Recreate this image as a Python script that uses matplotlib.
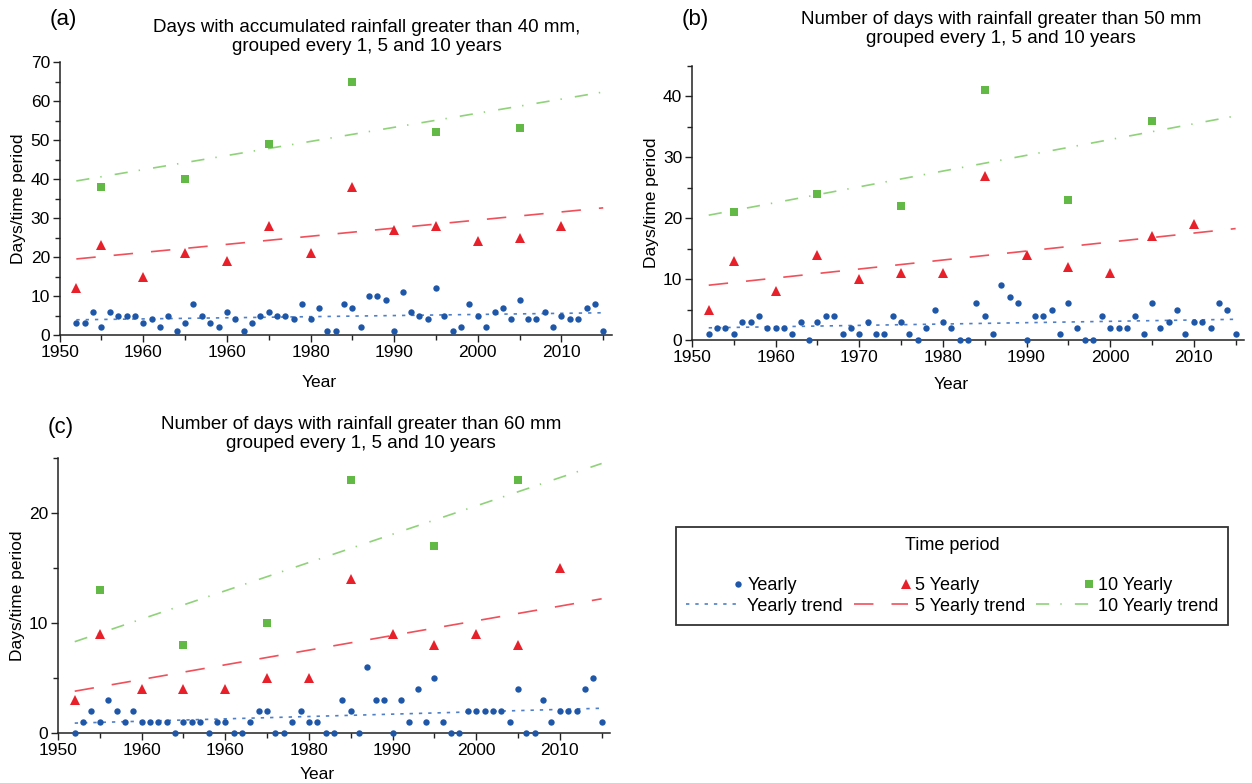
import numpy as np
import matplotlib
matplotlib.use("Agg")
from matplotlib import pyplot as plt
from matplotlib.lines import Line2D
from matplotlib.legend_handler import HandlerLine2DCompound
from matplotlib.ticker import MultipleLocator

plt.rcParams["font.family"] = ["Liberation Sans", "DejaVu Sans"]
plt.rcParams["lines.scale_dashes"] = False

# ---------------- data ----------------
years = list(range(1952, 2016))
years_5 = [1952, 1955, 1960, 1965, 1970, 1975, 1980, 1985, 1990, 1995, 2000, 2005, 2010]
years_10 = [1955, 1965, 1975, 1985, 1995, 2005]
trend_x = [1952, 2015]

# (a) > 40 mm
a_yearly = [3, 3, 6, 2, 6, 5, 5, 5, 3, 4, 2, 5, 1, 3, 8, 5, 3, 2, 6, 4,
            1, 3, 5, 6, 5, 5, 4, 8, 4, 7, 1, 1, 8, 7, 2, 10, 10, 9, 1, 11,
            6, 5, 4, 12, 5, 1, 2, 8, 5, 2, 6, 7, 4, 9, 4, 4, 6, 2, 5, 4,
            4, 7, 8, 1]
a_5 = [12, 23, 15, 21, 19, 28, 21, 38, 27, 28, 24, 25, 28]
a_10 = [38, 40, 49, 65, 52, 53]
a_trend_1 = [3.9, 5.7]
a_trend_5 = [19.5, 32.6]
a_trend_10 = [39.5, 62.3]

# (b) > 50 mm
b_yearly = [1, 2, 2, 1, 3, 3, 4, 2, 2, 2, 1, 3, 0, 3, 4, 4, 1, 2, 1, 3,
            1, 1, 4, 3, 1, 0, 2, 5, 3, 2, 0, 0, 6, 4, 1, 9, 7, 6, 0, 4,
            4, 5, 1, 6, 2, 0, 0, 4, 2, 2, 2, 4, 1, 6, 2, 3, 5, 1, 3, 3,
            2, 6, 5, 1]
b_5 = [5, 13, 8, 14, 10, 11, 11, 27, 14, 12, 11, 17, 19]
b_10 = [21, 24, 22, 41, 23, 36]
b_trend_1 = [2.0, 3.4]
b_trend_5 = [9.0, 18.3]
b_trend_10 = [20.5, 36.8]

# (c) > 60 mm
c_yearly = [0, 1, 2, 1, 3, 2, 1, 2, 1, 1, 1, 1, 0, 1, 1, 1, 0, 1, 1, 0,
            0, 1, 2, 2, 0, 0, 1, 2, 1, 1, 0, 0, 3, 2, 0, 6, 3, 3, 0, 3,
            1, 4, 1, 5, 1, 0, 0, 2, 2, 2, 2, 2, 1, 4, 0, 0, 3, 1, 2, 2,
            2, 4, 5, 1]
c_5 = [3, 9, 4, 4, 4, 5, 5, 14, 9, 8, 9, 8, 15]
c_10 = [13, 8, 10, 23, 17, 23]
c_trend_1 = [0.9, 2.25]
c_trend_5 = [3.8, 12.2]
c_trend_10 = [8.3, 24.5]

x_ticks = [1950, 1960, 1970, 1980, 1990, 2000, 2010]
x_labels_ac = ["1950", "1960", "1960", "1980", "1990", "2000", "2010"]
x_labels_b = ["1950", "1960", "1970", "1980", "1990", "2000", "2010"]

# ---------------- styles ----------------
BLUE = "#1f57a8"
RED = "#e8202a"
GREEN = "#63b946"
BLUE_T = "#4f7fc6"
RED_T = "#f0505a"
GREEN_T = "#8fd27a"
DARK = "#222222"

FS = 12.5

fig = plt.figure(figsize=(12.52, 7.83), dpi=100)


def panel(rect, yearly, y5, y10, t1, t5, t10, ymax, ylabels_major, xlabels,
          title, letter, title_xy, letter_xy, ylab_x, xlab_y):
    ax = fig.add_axes(rect)
    ax.plot(years, yearly, "o", color=BLUE, ms=4.6, mew=0, clip_on=False, zorder=4)
    ax.plot(years_5, y5, "^", color=RED, ms=7.5, mew=0, clip_on=False, zorder=4)
    ax.plot(years_10, y10, "s", color=GREEN, ms=5.6, mew=0, clip_on=False, zorder=4)
    ax.plot(trend_x, t1, color=BLUE_T, lw=1.2, dashes=(2.4, 4.3))
    ax.plot(trend_x, t5, color=RED_T, lw=1.2, dashes=(14, 13))
    ax.plot(trend_x, t10, color=GREEN_T, lw=1.2, dashes=(9.5, 8, 1, 9.5))

    ax.set_xlim(1950, 2016)
    ax.set_ylim(0, ymax)
    ax.set_xticks(x_ticks)
    ax.set_xticklabels(xlabels)
    ax.xaxis.set_minor_locator(MultipleLocator(5))
    ax.set_yticks(ylabels_major)
    ax.yaxis.set_minor_locator(MultipleLocator(5))
    for s in ("top", "right"):
        ax.spines[s].set_visible(False)
    for s in ("left", "bottom"):
        ax.spines[s].set_linewidth(1.1)
        ax.spines[s].set_color(DARK)
    ax.tick_params(which="major", direction="out", length=5, width=1.0,
                   color=DARK, labelsize=FS, labelcolor="black", pad=2)
    ax.tick_params(which="minor", direction="out", length=3.5, width=1.0, color=DARK)

    ax.set_xlabel("Year", fontsize=FS)
    ax.xaxis.set_label_coords(0.47, xlab_y)
    ax.set_ylabel("Days/time period", fontsize=FS)
    ax.yaxis.set_label_coords(ylab_x, 0.5)

    fig.text(title_xy[0], title_xy[1], title, ha="center", va="center",
             fontsize=13.5, linespacing=1.2)
    fig.text(letter_xy[0], letter_xy[1], letter, ha="center", va="center", fontsize=16)
    return ax


W, H = 1252.0, 783.0

panel([59.6 / W, (H - 335) / H, 552 / W, 273 / H], a_yearly, a_5, a_10,
      a_trend_1, a_trend_5, a_trend_10, 70, range(0, 71, 10), x_labels_ac,
      "Days with accumulated rainfall greater than 40 mm,\ngrouped every 1, 5 and 10 years",
      "(a)", (367 / W, (H - 37) / H), (63 / W, (H - 20) / H), -0.06, -0.145)

panel([692 / W, (H - 340) / H, 552 / W, 274 / H], b_yearly, b_5, b_10,
      b_trend_1, b_trend_5, b_trend_10, 45, range(0, 41, 10), x_labels_b,
      "Number of days with rainfall greater than 50 mm\ngrouped every 1, 5 and 10 years",
      "(b)", (1001 / W, (H - 29) / H), (695 / W, (H - 20) / H), -0.06, -0.135)

panel([58 / W, (H - 733) / H, 552 / W, 275 / H], c_yearly, c_5, c_10,
      c_trend_1, c_trend_5, c_trend_10, 25, range(0, 21, 10), x_labels_ac,
      "Number of days with rainfall greater than 60 mm\ngrouped every 1, 5 and 10 years",
      "(c)", (361 / W, (H - 434) / H), (61 / W, (H - 428) / H), -0.06, -0.125)


# legend: markers sit at the right end of the handle
class RightMarker(HandlerLine2DCompound):
    def get_xdata(self, legend, xdescent, ydescent, width, height, fontsize):
        xdata, _ = super().get_xdata(legend, xdescent, ydescent, width, height, fontsize)
        return xdata, [-xdescent + width - 0.1 * fontsize]


handles = [
    Line2D([], [], ls="none", marker="o", color=BLUE, ms=4.6, mew=0),
    Line2D([], [], color=BLUE_T, lw=1.2, dashes=(2.4, 4.3)),
    Line2D([], [], ls="none", marker="^", color=RED, ms=7.5, mew=0),
    Line2D([], [], color=RED_T, lw=1.2, dashes=(14, 13)),
    Line2D([], [], ls="none", marker="s", color=GREEN, ms=5.6, mew=0),
    Line2D([], [], color=GREEN_T, lw=1.2, dashes=(9.5, 8, 1, 9.5)),
]
labels = ["Yearly", "Yearly trend", "5 Yearly", "5 Yearly trend",
          "10 Yearly", "10 Yearly trend"]

leg = fig.legend(handles, labels, ncol=3, loc="upper left",
                 bbox_to_anchor=(676 / W, (H - 527) / H), borderaxespad=0,
                 title="Time period\n", title_fontsize=13, fontsize=13,
                 frameon=True, fancybox=False, framealpha=1, edgecolor="#333333",
                 handlelength=3.0, handletextpad=0.4, columnspacing=0.6,
                 labelspacing=0.2, borderpad=0.55, numpoints=1,
                 handler_map={Line2D: RightMarker()})
leg.get_frame().set_linewidth(1.3)

fig.savefig("out.png", dpi=100)
